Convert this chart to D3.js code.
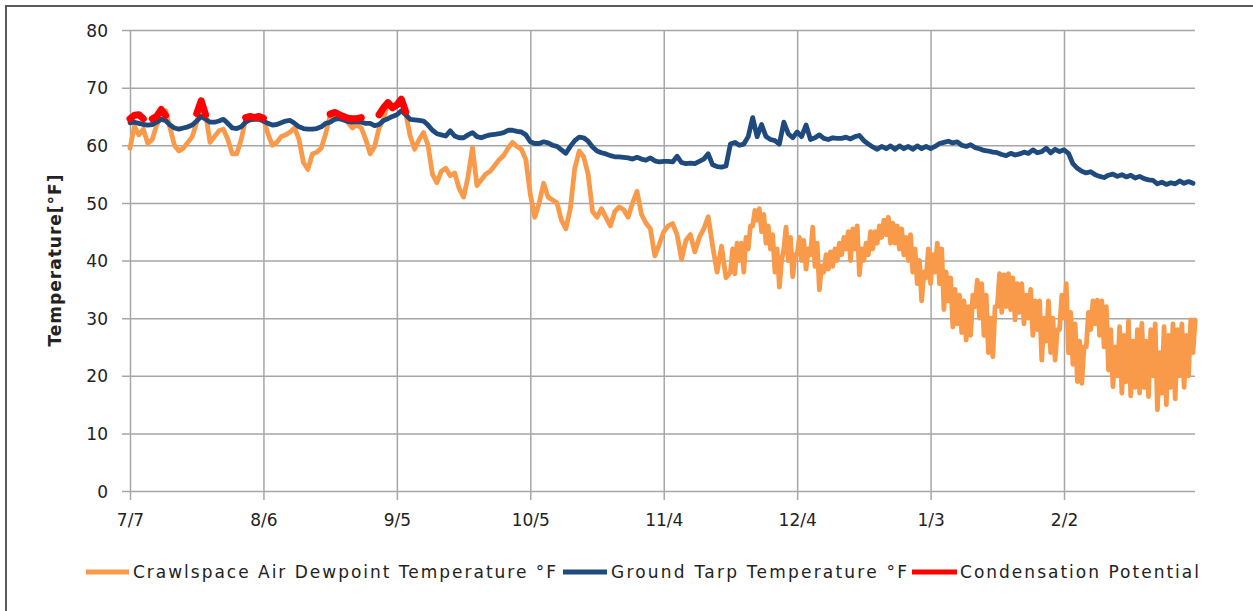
<!DOCTYPE html>
<html><head><meta charset="utf-8">
<script src="https://cdn.jsdelivr.net/npm/d3@7"></script>
<style>
html,body{margin:0;padding:0;background:#fff;}
svg text{font-family:"DejaVu Sans",Verdana,sans-serif;fill:#222;}
</style></head>
<body><svg id="chart" width="1253" height="611"></svg>
<script>
// ---- data ----
const startDate = Date.UTC(2014, 6, 7);
const tickLabels = ["7/7","8/6","9/5","10/5","11/4","12/4","1/3","2/2"];
const tickDayOffsets = [0,30,60,90,120,150,180,210];
const yTicks = [0,10,20,30,40,50,60,70,80];
const seriesNames = ["Crawlspace Air Dewpoint Temperature °F","Ground Tarp Temperature °F","Condensation Potential"];

// dewpoint, one value per day, days 0..134 (from 7/7)
const dewpointDaily = [
59.5,63.3,61.8,62.8,60.3,61,63.5,65,66,63,
60,59,59.5,60.5,61.5,64,67.5,65.5,60.5,61.5,
62.5,62.8,61,58.5,58.5,61,64.5,64.8,64.6,64.8,
64.6,62,60,60.5,61.5,61.8,62.3,63,61,57,
55.8,58.5,58.8,59.5,62,65.2,64.8,65.5,65,64,
63,63.5,63,61,58.5,59.8,63,64.5,67.4,66.5,
66.8,68,65.5,61.6,59.3,61,62.2,60,55,53.5,
55.5,56,54.7,55.2,52.5,51,54.5,59.6,53,54,
55,55.5,56.5,57.5,58.2,59.5,60.5,59.8,59.3,57.5,
51.5,47.5,50,53.4,51,50.5,50,47,45.5,49,
56,59,58,55,48.5,47.5,49,47.5,46,48.5,
49.3,48.8,47.5,50,52,48,46.5,45.5,40.8,42.8,
45,46,46.4,44.5,40.2,43.5,44.5,41.5,44,45.5,
47.6,42.5,38,42.5,37
];
// dewpoint, two values per day (half-day steps), day 135 onward
const dewpointHalfDay = [
38,42, 37.7,43, 40,43, 38,44, 42,46, 46,48.7, 47,49, 45,48, 43,46, 42,44.5,
38,42, 35.4,40, 42,45.8, 40,44, 37.2,41, 41,44, 40,43.5, 38.5,42, 41,45.8, 39,43,
34.9,39, 38,41, 38.5,41.5, 39,42, 40,43, 41,44, 42,45, 40,45.5, 42,46, 37.5,42,
40,43, 41,45, 42,45, 43,46, 44,47, 44.5,47.5, 43,46.5, 43,46, 42,45.5, 41,44,
40,44.5, 38,42, 36,40, 33,38, 37,42,
36,41, 38,43, 36,42, 31.5,38, 33,37, 28.5,35, 29,34, 27.5,33, 26.2,32, 27,34,
32,36.6, 30,36, 27,34, 24,30, 23.3,32, 32,37.7, 31,37.5, 32,37.7, 31.5,37, 29.7,36,
31,36, 29,34, 30,35, 27,33, 28,33, 22.7,30, 26,33, 24,30, 22.7,28, 28,34,
30,36, 24,31, 22,29, 19,26, 18.7,25, 25,31, 28,33, 29,33.1, 27,33, 25,32,
21,28, 18.1,25, 20,28.5, 17,27, 19,29.5, 16.5,26, 18,28, 17,29.1, 18,26, 16.4,28,
20,29, 14.1,24, 17,28.5, 15,27, 18,29, 16,28, 20,29, 18,27, 20,29.7, 24,29.7
];

// ground tarp, one value per day
const groundTarp = [
63.9,64,63.8,63.6,63.5,63.6,64,64.5,64.3,63.5,
63,62.8,63,63.2,63.5,64.2,65,64.5,64,64,
64.2,64.5,63.8,63,62.9,63.2,64,64.4,64.5,64.5,
64.2,63.8,63.5,63.6,63.9,64.2,64.3,63.8,63.2,62.9,
62.8,62.8,62.9,63.2,63.8,64,64.5,64.6,64.4,64.1,
64,64.1,64,63.8,63.8,63.4,63.6,64.3,64.6,65,
65.3,66,65.3,64.5,64.4,64.3,64.2,63.5,62.6,62,
61.8,61.6,62.5,61.6,61.3,61.3,61.8,62.2,61.5,61.3,
61.6,61.8,61.9,62,62.2,62.6,62.6,62.4,62.3,61.8,
60.6,60.3,60.3,60.6,60.4,60,59.8,59.2,58.6,59.8,
60.8,61.4,61.3,60.7,59.7,59,58.7,58.5,58.2,58,
58,57.9,57.8,57.6,57.9,57.6,57.4,57.8,57.3,57.1,
57.2,57.2,57.1,58.1,57,56.8,56.9,56.8,57.2,57.6,
58.5,56.6,56.3,56.2,56.4,60.2,60.5,60,60.2,61.5,
64.8,61.5,63.6,61.5,61,60.8,60.2,64,62,61.3,
62.3,61.5,63.5,61,61.3,61.8,61.2,61,61.3,61.2,
61.2,61.4,61.1,61.5,61.7,60.8,60.2,59.7,59.3,59.8,
59.4,59.9,59.3,59.9,59.4,59.8,59.3,59.9,59.4,59.8,
59.4,59.8,60.3,60.5,60.7,60.4,60.6,60,59.8,60.1,
59.6,59.4,59.1,59,58.8,58.7,58.4,58.2,58.6,58.3,
58.5,58.8,58.6,59.2,58.7,58.9,59.5,58.7,59.3,58.9,
59.2,58.6,56.8,56,55.5,55.2,55.4,54.9,54.6,54.4,
54.8,55,54.6,54.9,54.5,54.8,54.3,54.6,54.2,54,
53.9,53.3,53.6,53.2,53.5,53.3,53.8,53.4,53.7,53.4
];

// condensation potential, one value per day (null = none)
const condensation = [
64.6,65.2,65.3,64.6,null,64.6,65,66.2,65.2,null,
null,null,null,null,null,65.5,67.7,65.3,null,null,
null,null,null,null,null,null,64.8,65,64.8,65,
64.7,null,null,null,null,null,null,null,null,null,
null,null,null,null,null,65.4,65.7,65.3,65,64.7,
64.6,64.6,64.8,null,null,null,65.3,66.5,67.4,66.5,
67,68,65.8
];

// ---- chart ----
const svg = d3.select("#chart");
const plotL = 130, plotR = 1195, plotT = 30, plotB = 491;
const dayMs = 864e5;
const x = d3.scaleUtc()
  .domain([new Date(startDate), new Date(startDate + 239.45 * dayMs)])
  .range([plotL, plotR]);
const y = d3.scaleLinear().domain([0, 80]).range([plotB, plotT]);
const dateOf = d => new Date(startDate + d * dayMs);
const tickDates = tickDayOffsets.map(dateOf);

// outer border
svg.append("rect").attr("x", 6).attr("y", 6).attr("width", 1260).attr("height", 620)
  .attr("fill", "none").attr("stroke", "#5a5a5a").attr("stroke-width", 2);

const gridColor = "#a6a6a6";
const yAxis = d3.axisLeft(y).tickValues(yTicks).tickSize(plotR - plotL + 8).tickPadding(14).tickFormat(d3.format("d"));
const gy = svg.append("g").attr("transform", `translate(${plotR},0)`).call(yAxis);
gy.select(".domain").remove();
gy.selectAll(".tick line").attr("stroke", gridColor).attr("stroke-width", 1.5);
gy.selectAll(".tick text").attr("font-size", 17).attr("fill", "#222").attr("x", -(plotR - plotL) - 22).attr("dy", "0.36em");

const xAxis = d3.axisBottom(x).tickValues(tickDates).tickSize(plotB - plotT + 9).tickPadding(14)
  .tickFormat((d, i) => tickLabels[i]);
const gx = svg.append("g").attr("transform", `translate(0,${plotT})`).call(xAxis);
gx.select(".domain").remove();
gx.selectAll(".tick line").attr("stroke", gridColor).attr("stroke-width", 1.5);
gx.selectAll(".tick text").attr("font-size", 17).attr("fill", "#222");

// y title
svg.append("text").attr("transform", `translate(61,${(plotT + plotB) / 2}) rotate(-90)`)
  .attr("text-anchor", "middle").attr("font-size", 17).attr("font-weight", "bold")
  .attr("textLength", 172).attr("lengthAdjust", "spacing")
  .attr("fill", "#111").text("Temperature[°F]");

// build point lists
const dewPts = dewpointDaily.map((v, i) => ({ d: i, v }))
  .concat(dewpointHalfDay.map((v, j) => ({ d: dewpointDaily.length + j * 0.5, v })));
const tarpPts = groundTarp.map((v, i) => ({ d: i, v }));
const condPts = condensation.map((v, i) => ({ d: i, v }));

const line = d3.line().defined(p => p.v != null).x(p => x(dateOf(p.d))).y(p => y(p.v));
const colors = ["#F99A4B", "#1F4A7E", "#FF0000"];
const widths = [4.8, 4.8, 7];
[dewPts, tarpPts, condPts].forEach((s, k) => {
  svg.append("path").attr("d", line(s)).attr("fill", "none")
    .attr("stroke", colors[k]).attr("stroke-width", widths[k])
    .attr("stroke-linejoin", "round").attr("stroke-linecap", "round");
});

// legend
const legY = 572;
const legend = [
  { x0: 86, x1: 129, tx: 133, len: 423 },
  { x0: 563, x1: 607, tx: 611, len: 296 },
  { x0: 912, x1: 957, tx: 960, len: 239 }
];
legend.forEach((l, k) => {
  svg.append("line").attr("x1", l.x0).attr("x2", l.x1).attr("y1", legY).attr("y2", legY)
    .attr("stroke", colors[k]).attr("stroke-width", 5);
  svg.append("text").attr("x", l.tx).attr("y", legY + 6).attr("font-size", 17)
    .attr("textLength", l.len).attr("lengthAdjust", "spacing").text(seriesNames[k]);
});
</script></body></html>
